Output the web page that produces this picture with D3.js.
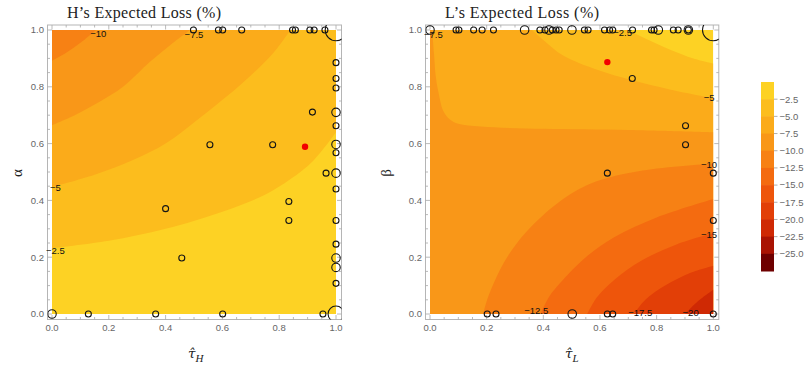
<!DOCTYPE html>
<html>
<head>
<meta charset="utf-8">
<script src="https://cdn.jsdelivr.net/npm/d3@7"></script>
<style>
  body { margin: 0; background: #fff; }
  svg { display: block; font-family: "Liberation Sans", Arial, sans-serif; }
</style>
</head>
<body>
<svg id="chart" width="806" height="367"></svg>
<script>
// ---- values ----
const axisTicks = [0, 0.2, 0.4, 0.6, 0.8, 1.0];
const bandColors = ["#fdd224", "#fcbd1d", "#fbab1a", "#f99718", "#f78114", "#f46b10",
                    "#ee550b", "#e23f07", "#cf2904", "#a91303", "#6e0000"];
const barTicks = [-2.5, -5, -7.5, -10, -12.5, -15, -17.5, -20, -22.5, -25];
const barDomain = [0, -27.5];

// contour lines of H's loss: points (tau_H, alpha), corners that close the darker side
const hContours = [
  { level: -2.5, pts: [[0, 0.232], [0.2, 0.258], [0.4, 0.3], [0.6, 0.36], [0.75, 0.42], [0.84, 0.475], [0.92, 0.54], [1, 0.64]], close: [[1, 1], [0, 1]] },
  { level: -5, pts: [[0, 0.447], [0.15, 0.49], [0.285, 0.542], [0.4, 0.6], [0.52, 0.69], [0.62, 0.77], [0.7, 0.84], [0.78, 0.92], [0.84, 1]], close: [[0, 1]] },
  { level: -7.5, pts: [[0, 0.665], [0.08, 0.7], [0.169, 0.748], [0.25, 0.8], [0.345, 0.888], [0.42, 0.95], [0.486, 1]], close: [[0, 1]] },
  { level: -10, pts: [[0, 0.892], [0.05, 0.92], [0.1, 0.955], [0.155, 1]], close: [[0, 1]] }
];
const hLabels = [["−10", 0.163, 0.988], ["−7.5", 0.5, 0.984], ["−5", 0.012, 0.444], ["−2.5", 0.012, 0.222]];
// observations: tau_H, alpha, count
const hPoints = [
  [0.498, 1, 1], [0.586, 1, 1], [0.601, 1, 1], [0.668, 1, 1], [0.847, 1, 1], [0.857, 1, 1],
  [0.908, 1, 1], [0.923, 1, 1], [0.961, 1, 1], [1, 1, 13],
  [1, 0.885, 1], [1, 0.829, 1], [1, 0.796, 1], [1, 0.71, 2], [1, 0.663, 1], [1, 0.597, 2],
  [1, 0.568, 1], [1, 0.496, 2], [1, 0.44, 1], [1, 0.329, 1], [1, 0.246, 1], [1, 0.197, 2],
  [1, 0.164, 2], [1, 0.108, 1], [1, 0, 7],
  [0.917, 0.711, 1], [0.965, 0.496, 1], [0.556, 0.596, 1], [0.777, 0.596, 1],
  [0.834, 0.396, 1], [0.834, 0.329, 1], [0.4, 0.371, 1], [0.457, 0.197, 1],
  [0, 0, 2], [0.128, 0, 1], [0.365, 0, 1], [0.601, 0, 1], [0.954, 0, 1]
];
const hRed = [0.891, 0.589];

// contour lines of L's loss: points (tau_L, beta)
const lContours = [
  { level: -2.5, pts: [[0.7, 1], [0.76, 0.97], [0.85, 0.93], [0.93, 0.9], [1, 0.882]], close: [[1, 0], [0, 0], [0, 1]] },
  { level: -5, pts: [[0.36, 1], [0.4, 0.965], [0.47, 0.91], [0.59, 0.86], [0.71, 0.824], [0.85, 0.79], [1, 0.76]], close: [[1, 0], [0, 0], [0, 1]] },
  { level: -7.5, pts: [[0.008, 1], [0.014, 0.92], [0.02, 0.84], [0.03, 0.78], [0.047, 0.715], [0.07, 0.685], [0.1, 0.67], [0.18, 0.66], [0.4, 0.652], [0.7, 0.648], [1, 0.64]], close: [[1, 0], [0, 0], [0, 1]] },
  { level: -10, pts: [[0.187, 0], [0.205, 0.06], [0.23, 0.12], [0.26, 0.18], [0.3, 0.24], [0.35, 0.3], [0.45, 0.39], [0.57, 0.46], [0.75, 0.505], [1, 0.53]], close: [[1, 0]] },
  { level: -12.5, pts: [[0.39, 0], [0.42, 0.06], [0.46, 0.11], [0.55, 0.2], [0.65, 0.27], [0.8, 0.34], [1, 0.405]], close: [[1, 0]] },
  { level: -15, pts: [[0.555, 0], [0.59, 0.06], [0.65, 0.12], [0.75, 0.19], [0.87, 0.245], [1, 0.285]], close: [[1, 0]] },
  { level: -17.5, pts: [[0.72, 0], [0.76, 0.05], [0.83, 0.1], [0.92, 0.145], [1, 0.17]], close: [[1, 0]] },
  { level: -20, pts: [[0.9, 0], [0.94, 0.04], [1, 0.085]], close: [[1, 0]] }
];
const lLabels = [["−7.5", 0.012, 0.985], ["−2.5", 0.68, 0.99], ["−5", 0.985, 0.76], ["−10", 0.985, 0.526],
                 ["−15", 0.985, 0.28], ["−12.5", 0.375, 0.012], ["−17.5", 0.742, 0.006], ["−20", 0.92, 0.004]];
const lPoints = [
  [0, 1, 2], [0.092, 1, 1], [0.102, 1, 1], [0.154, 1, 1], [0.184, 1, 1], [0.224, 1, 1], [0.334, 1, 2],
  [0.388, 1, 1], [0.406, 1, 1], [0.42, 1, 2], [0.432, 1, 1], [0.445, 1, 1], [0.456, 1, 1], [0.501, 1, 2],
  [0.545, 1, 1], [0.558, 1, 1], [0.616, 1, 1], [0.634, 1, 1], [0.645, 1, 1], [0.715, 1, 1],
  [0.782, 1, 1], [0.791, 1, 1], [0.806, 1, 2], [0.859, 1, 1], [0.876, 1, 1], [0.912, 1, 2], [0.912, 1, 1],
  [1, 1, 13],
  [0.714, 0.829, 1], [0.902, 0.663, 1], [0.902, 0.596, 1], [0.626, 0.496, 1], [1, 0.496, 1], [1, 0.329, 1],
  [0.202, 0, 1], [0.233, 0, 1], [0.502, 0, 2], [0.626, 0, 1], [0.645, 0, 1], [1, 0, 1]
];
const lRed = [0.626, 0.887];

// ---- drawing ----
const svg = d3.select("#chart");
const defs = svg.append("defs");
const rScale = d3.scaleSqrt().domain([0, 1]).range([0, 3]);
const bandColor = level => bandColors[Math.round(level / -2.5)];
const serif = "'Liberation Serif', 'Times New Roman', serif";

function drawPanel(o) {
  const x = d3.scaleLinear().domain([0, 1]).range([o.left, o.right]);
  const y = d3.scaleLinear().domain([0, 1]).range([o.bottom, o.top]);
  const fx0 = o.left - 4.5, fx1 = o.right + 5.5, fy0 = o.top - 5, fy1 = o.bottom + 5.5;

  defs.append("clipPath").attr("id", o.id + "-data").append("rect")
    .attr("x", o.left).attr("y", o.top).attr("width", o.right - o.left).attr("height", o.bottom - o.top);
  defs.append("clipPath").attr("id", o.id + "-frame").append("rect")
    .attr("x", fx0).attr("y", fy0).attr("width", fx1 - fx0).attr("height", fy1 - fy0);

  const g = svg.append("g");

  // filled contour bands
  const fills = g.append("g").attr("clip-path", `url(#${o.id}-data)`);
  fills.append("rect")
    .attr("x", o.left).attr("y", o.top).attr("width", o.right - o.left).attr("height", o.bottom - o.top)
    .attr("fill", bandColors[0]);
  const line = d3.line().x(d => x(d[0])).y(d => y(d[1])).curve(d3.curveCatmullRom);
  o.contours.forEach(c => {
    const d = line(c.pts) + c.close.map(p => `L${x(p[0])},${y(p[1])}`).join("") + "Z";
    fills.append("path").attr("d", d).attr("fill", bandColor(c.level));
  });

  // frame and ticks
  g.append("rect")
    .attr("x", fx0).attr("y", fy0).attr("width", fx1 - fx0).attr("height", fy1 - fy0)
    .attr("fill", "none").attr("stroke", "#b5b5b5").attr("stroke-width", 1);
  const minor = d3.range(0, 1.0001, 0.05).filter(t => !axisTicks.some(m => Math.abs(m - t) < 1e-6));
  const tickG = g.append("g").attr("stroke", "#a8a8a8").attr("stroke-width", 0.8);
  [[axisTicks, 4.5], [minor, 2.5]].forEach(([vals, len]) => {
    vals.forEach(t => {
      tickG.append("line").attr("x1", x(t)).attr("x2", x(t)).attr("y1", fy1).attr("y2", fy1 - len);
      tickG.append("line").attr("x1", x(t)).attr("x2", x(t)).attr("y1", fy0).attr("y2", fy0 + len);
      tickG.append("line").attr("y1", y(t)).attr("y2", y(t)).attr("x1", fx0).attr("x2", fx0 + len);
      tickG.append("line").attr("y1", y(t)).attr("y2", y(t)).attr("x1", fx1).attr("x2", fx1 - len);
    });
  });
  g.selectAll(".xt").data(axisTicks).enter().append("text")
    .attr("x", d => x(d)).attr("y", fy1 + 11.5)
    .attr("text-anchor", "middle").attr("font-size", 9.5).attr("fill", "#666")
    .text(d => d.toFixed(1));
  g.selectAll(".yt").data(axisTicks).enter().append("text")
    .attr("x", fx0 - 3.5).attr("y", d => y(d) + 3.4)
    .attr("text-anchor", "end").attr("font-size", 9.5).attr("fill", "#666")
    .text(d => d.toFixed(1));

  // contour labels
  g.selectAll(".cl").data(o.labels).enter().append("text")
    .attr("x", d => x(d[1])).attr("y", d => y(d[2]) + 3.3)
    .attr("text-anchor", "middle").attr("font-size", 9.5).attr("fill", "#111")
    .text(d => d[0]);

  // observations
  const pts = g.append("g").attr("clip-path", `url(#${o.id}-frame)`);
  pts.selectAll("circle.obs").data(o.points).enter().append("circle")
    .attr("cx", d => x(d[0])).attr("cy", d => y(d[1])).attr("r", d => rScale(d[2]))
    .attr("fill", "none").attr("stroke", "#151515").attr("stroke-width", 1.1);
  pts.append("circle").attr("cx", x(o.red[0])).attr("cy", y(o.red[1])).attr("r", 3.2).attr("fill", "#f20000");

  // titles
  g.append("text").attr("x", o.titleX).attr("y", 17.5)
    .attr("font-family", serif).attr("font-size", 16).attr("fill", "#222")
    .attr("textLength", 154).attr("lengthAdjust", "spacing")
    .text(o.title);
  g.append("text")
    .attr("transform", `translate(${o.yLabelX},${(o.top + o.bottom) / 2 + 1}) rotate(-90)`)
    .attr("text-anchor", "middle")
    .attr("font-family", serif).attr("font-size", 15).attr("fill", "#222")
    .text(o.yLabel);
  const xl = g.append("text").attr("x", o.xLabelX).attr("y", 358)
    .attr("font-family", "'DejaVu Serif', serif").attr("fill", "#222");
  xl.append("tspan").attr("font-size", 13.5).attr("font-style", "italic").text("τ\u0302");
  xl.append("tspan").attr("font-family", serif).attr("font-size", 11).attr("font-style", "italic")
    .attr("dy", 3.5).text(o.sub);
}

drawPanel({ id: "h", left: 52, right: 336, top: 30, bottom: 314,
  contours: hContours, labels: hLabels, points: hPoints, red: hRed,
  title: "H’s Expected Loss (%)", titleX: 67, yLabel: "α", yLabelX: 22, xLabelX: 188, sub: "H" });
drawPanel({ id: "l", left: 430, right: 713.3, top: 30, bottom: 314,
  contours: lContours, labels: lLabels, points: lPoints, red: lRed,
  title: "L’s Expected Loss (%)", titleX: 445, yLabel: "β", yLabelX: 391, xLabelX: 565, sub: "L" });

// colour bar
const barY = d3.scaleLinear().domain(barDomain).range([82, 271]);
const bar = svg.append("g");
bar.selectAll("rect").data(bandColors).enter().append("rect")
  .attr("x", 761).attr("width", 13)
  .attr("y", (d, i) => barY(-2.5 * i))
  .attr("height", (d, i) => barY(-2.5 * (i + 1)) - barY(-2.5 * i) + 0.5)
  .attr("fill", d => d);
bar.selectAll("line").data(barTicks).enter().append("line")
  .attr("x1", 774).attr("x2", 777.5).attr("y1", d => barY(d)).attr("y2", d => barY(d))
  .attr("stroke", "#999").attr("stroke-width", 0.8);
bar.selectAll("text").data(barTicks).enter().append("text")
  .attr("x", 779.5).attr("y", d => barY(d) + 3.4)
  .attr("font-size", 9.5).attr("fill", "#666")
  .text(d => d3.format(".1f")(d));
</script>
</body>
</html>
